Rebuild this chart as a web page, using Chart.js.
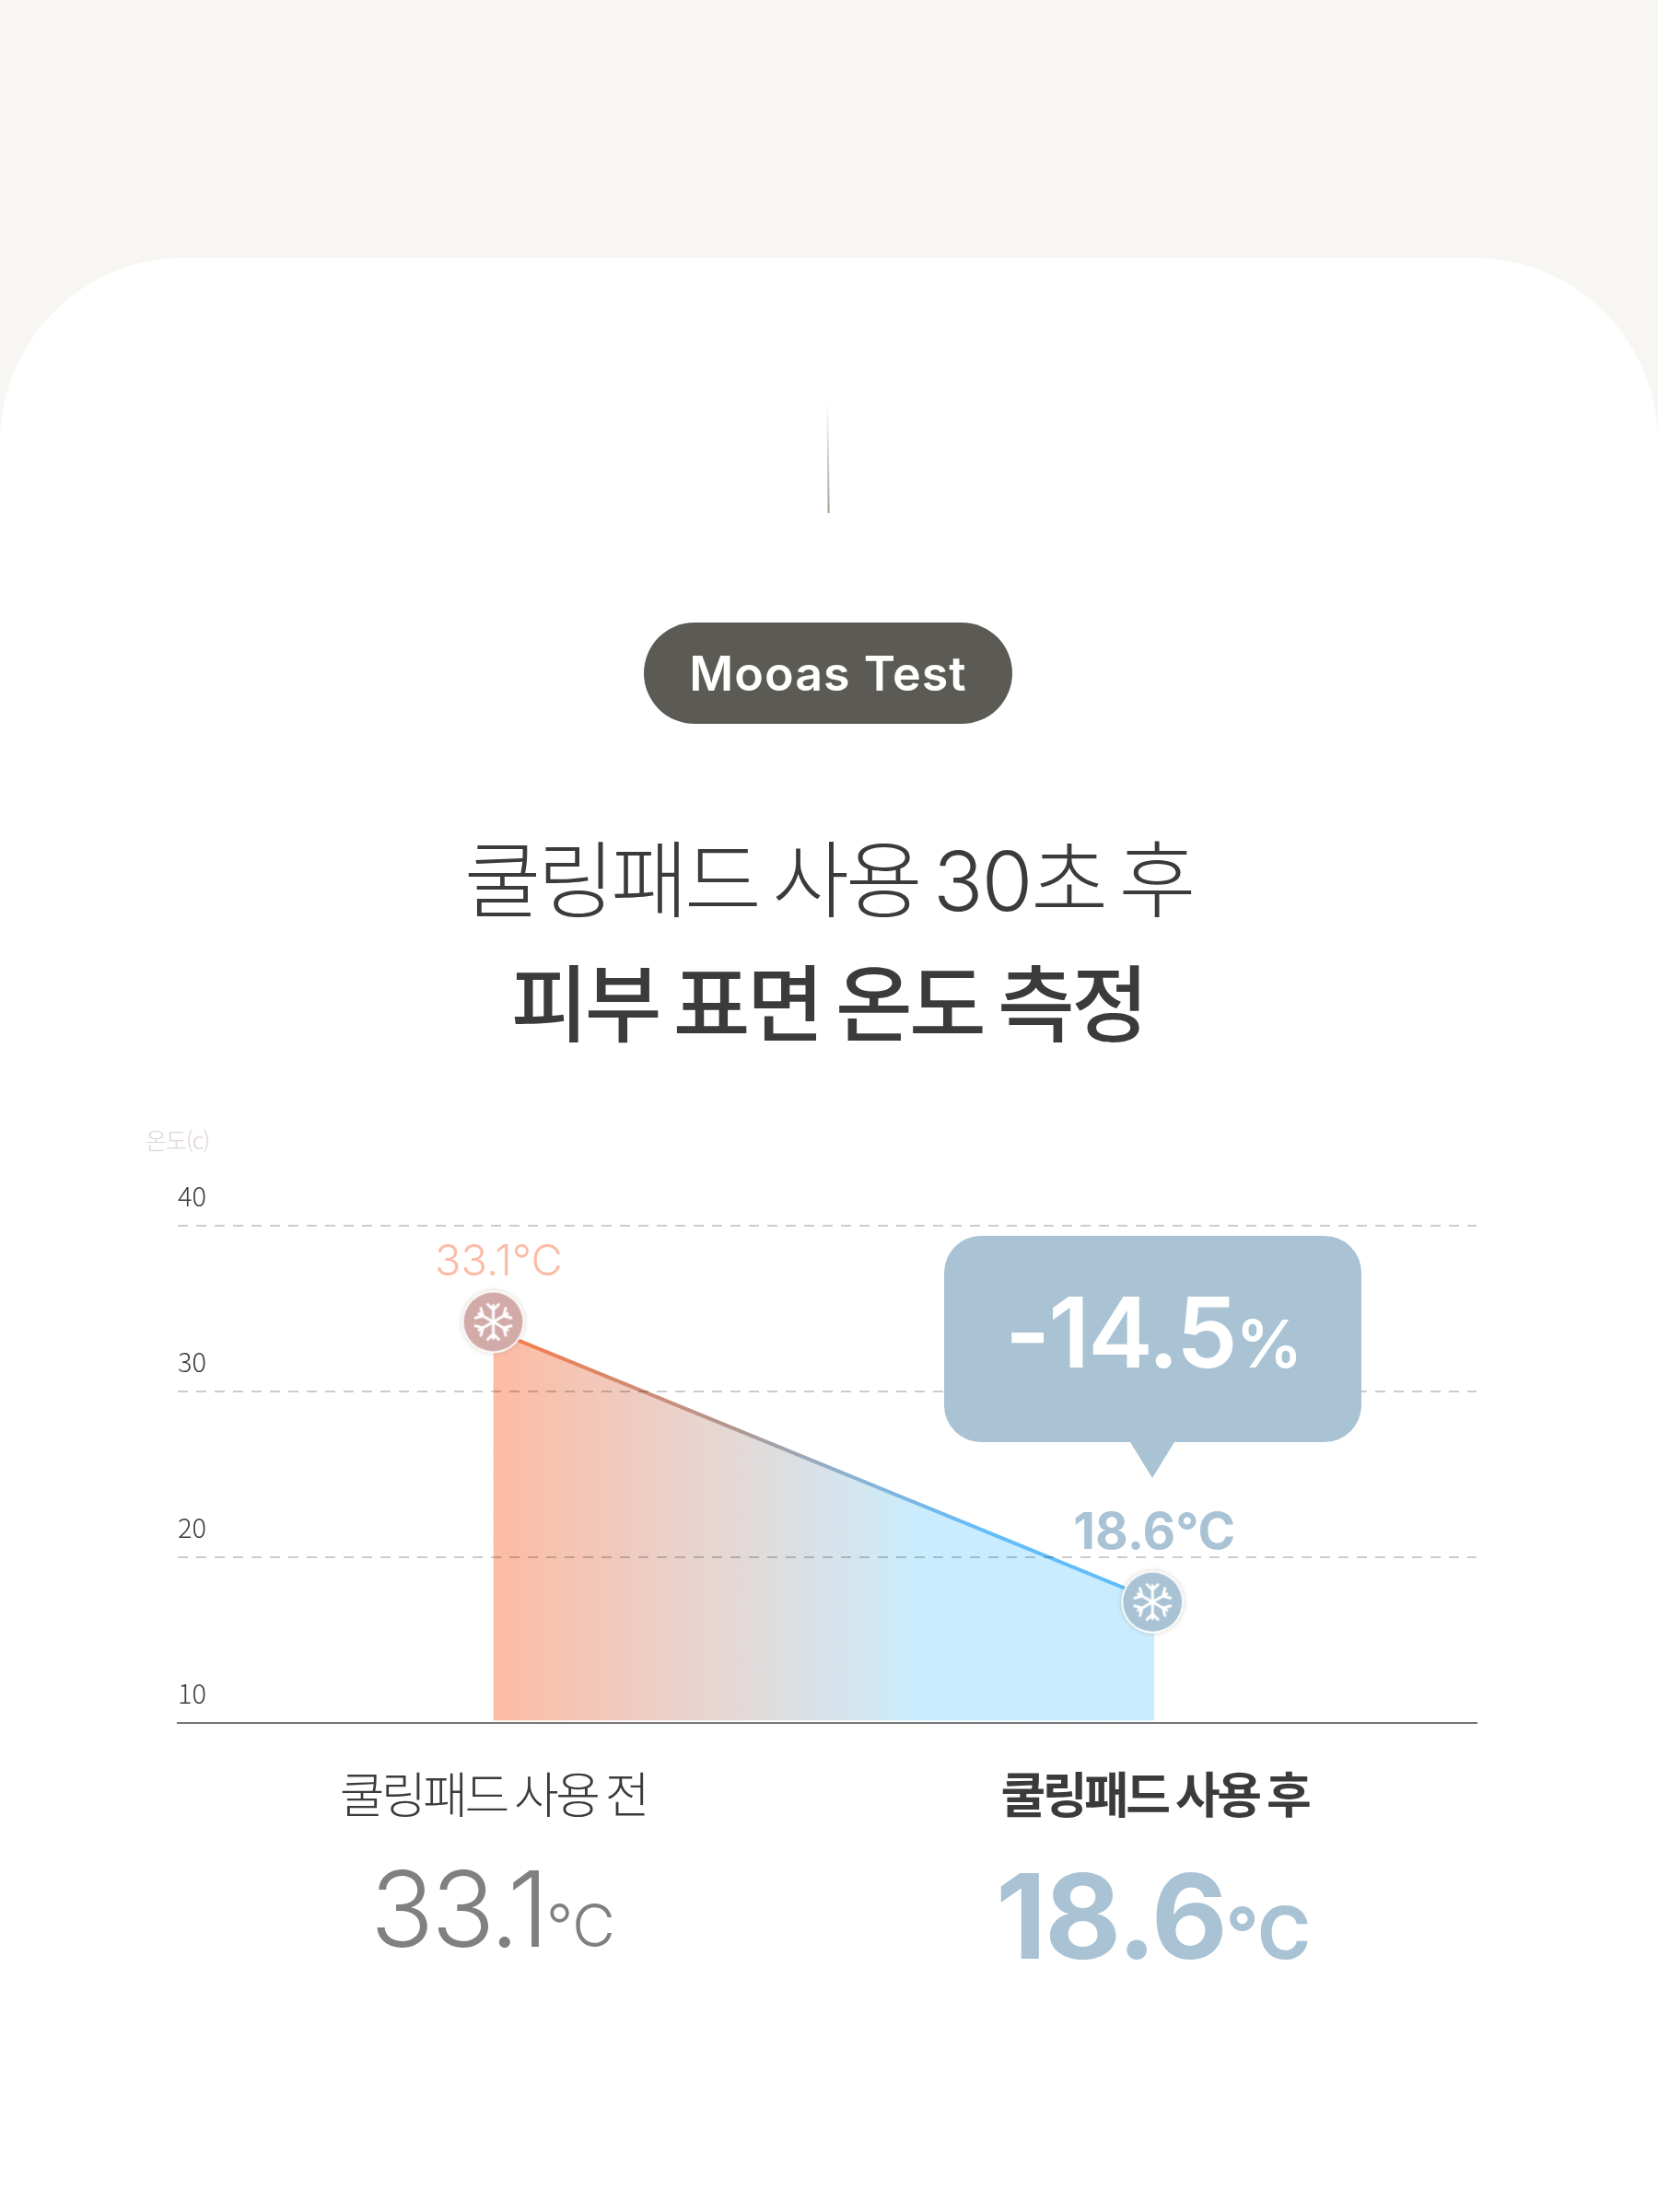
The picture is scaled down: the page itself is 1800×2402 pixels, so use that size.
<!DOCTYPE html>
<html lang="ko">
<head>
<meta charset="utf-8">
<title>쿨링패드 사용 30초 후 피부 표면 온도 측정</title>
<script src="https://cdn.jsdelivr.net/npm/chart.js@4"></script>
<style>
  html, body { margin: 0; padding: 0; }
  body { position: relative; width: 1800px; height: 2402px; overflow: hidden; background: #f7f6f2; font-family: 'Noto Sans CJK KR', sans-serif; color: #3b3b3b; }
  .card { position: absolute; left: 0; top: 280px; width: 1800px; height: 2122px; background: #fff; border-radius: 200px 200px 0 0; }
  .vline { position: absolute; left: 898px; top: 438px; width: 2px; height: 119px; background: linear-gradient(to bottom, rgba(166,155,144,0), #a69b90); transform: rotate(-0.6deg); }
  .pill { position: absolute; left: 699px; top: 676px; width: 400px; height: 110px; border-radius: 55px; background: #5b5a55; color: #fff; font: 600 52px Inter, sans-serif; line-height: 112px; text-align: center; letter-spacing: 1px; }
  .t { position: absolute; white-space: nowrap; text-align: center; }
  .title1 { left: -1px; width: 1800px; top: 889px; font-size: 91px; font-weight: 300; line-height: 120px; letter-spacing: -4px; word-spacing: -6px; }
  .title1 span { font-family: Inter, sans-serif; font-weight: 300; font-size: 90px; letter-spacing: -2px; }
  .title2 { left: -1px; width: 1800px; top: 1024px; font-size: 91px; font-weight: 500; line-height: 120px; letter-spacing: -3.6px; word-spacing: -6px; }
  .unit { position: absolute; left: 158px; top: 1220px; font-size: 25px; font-weight: 300; color: #ddd5d5; line-height: 34px; letter-spacing: -1px; }
  canvas { position: absolute; left: 0; top: 0; }
  .bubble { position: absolute; left: 1025px; top: 1342px; width: 453px; height: 224px; border-radius: 40px; background: #a9c3d5; color: #fff; font: 600 106px Inter, sans-serif; text-align: center; line-height: 210px; letter-spacing: -2px; }
  .bubble small { font-size: 72px; }
  .bubble::after { content: ''; position: absolute; left: 202px; top: 224px; border-left: 24px solid transparent; border-right: 24px solid transparent; border-top: 39px solid #a9c3d5; }
  .big1 { left: 335px; width: 400px; top: 1993px; color: #808080; font: 300 114px Inter, sans-serif; line-height: 160px; letter-spacing: -3px; }
  .big2 { left: 1052px; width: 400px; top: 2001px; color: #a9c3d5; font: 700 128px Inter, sans-serif; line-height: 160px; letter-spacing: -2px; }
  .big1 small { font-size: 64px; letter-spacing: 0; }
  .big2 small { font-size: 78px; letter-spacing: 0; }
</style>
</head>
<body>
<div class="card"></div>
<div class="vline"></div>
<div class="pill">Mooas Test</div>
<div class="t title1">쿨링패드 사용 <span>30</span>초 후</div>
<div class="t title2">피부 표면 온도 측정</div>
<div class="unit">온도(c)</div>
<canvas id="chart" width="1800" height="2402"></canvas>
<div class="bubble" id="bubble"></div>
<div class="t big1" id="big1"></div>
<div class="t big2" id="big2"></div>

<script>
const categories = ['쿨링패드 사용 전', '쿨링패드 사용 후'];
const positions = [0, 1];
const temperatures = [33.1, 18.6];
const changeLabel = -14.5;
// where the picture actually puts the line and the round markers
const lineLevels = [33.7, 17.4];
const markerPositions = [0, 0.997];
const markerLevels = [34.2, 17.3];
const yTicks = [10, 20, 30, 40];

document.getElementById('bubble').innerHTML = changeLabel + '<small>%</small>';
document.getElementById('big1').innerHTML = temperatures[0] + '<small>°C</small>';
document.getElementById('big2').innerHTML = temperatures[1] + '<small>°C</small>';

// round snowflake marker, drawn once and handed to Chart.js as a point style
const makeMarker = (fill) => {
    const c = document.createElement('canvas');
    c.width = 84;
    c.height = 84;
    const g = c.getContext('2d');
    g.translate(42, 42);
    g.shadowColor = 'rgba(120,100,90,0.3)';
    g.shadowBlur = 5;
    g.fillStyle = '#fff';
    g.beginPath();
    g.arc(0, 0, 34, 0, Math.PI * 2);
    g.fill();
    g.shadowBlur = 0;
    g.fillStyle = fill;
    g.beginPath();
    g.arc(0, 0, 32, 0, Math.PI * 2);
    g.fill();
    g.strokeStyle = '#fff';
    g.lineWidth = 3;
    g.lineCap = 'round';
    for (let i = 0; i < 6; i++) {
        g.save();
        g.rotate(i * Math.PI / 3);
        g.beginPath();
        g.moveTo(0, 0);
        g.lineTo(0, -18);
        g.moveTo(-6, -19);
        g.lineTo(0, -13);
        g.lineTo(6, -19);
        g.stroke();
        g.restore();
    }
    return c;
};

const horizontalGradient = (chart, stops) => {
    const { ctx, chartArea, scales } = chart;
    if (!chartArea) return 'transparent';
    const x0 = scales.x.getPixelForValue(positions[0]);
    const x1 = scales.x.getPixelForValue(positions[1]);
    const grad = ctx.createLinearGradient(x0, 0, x1, 0);
    stops.forEach(([at, col]) => grad.addColorStop(at, col));
    return grad;
};

const pointLabels = {
    id: 'pointLabels',
    afterDatasetsDraw(chart) {
        const { ctx, scales } = chart;
        const styles = [
            { font: '300 47px Inter, sans-serif', color: '#fdbba5', dx: 6, dy: -65 },
            { font: '700 55px Inter, sans-serif', color: '#a9c3d5', dx: 2, dy: -74 },
        ];
        ctx.save();
        ctx.textAlign = 'center';
        ctx.textBaseline = 'middle';
        temperatures.forEach((t, i) => {
            ctx.font = styles[i].font;
            ctx.fillStyle = styles[i].color;
            ctx.fillText(t + '°C', scales.x.getPixelForValue(markerPositions[i]) + styles[i].dx, scales.y.getPixelForValue(markerLevels[i]) + styles[i].dy);
        });
        ctx.restore();
        // x tick labels are drawn after this point, they sit tighter in the picture
        ctx.letterSpacing = '-3.5px';
    },
    afterDraw(chart) {
        chart.ctx.letterSpacing = '0px';
    },
};

new Chart(document.getElementById('chart'), {
    type: 'line',
    data: {
        datasets: [
            {
                label: 'marker',
                data: markerPositions.map((x, i) => ({ x, y: markerLevels[i] })),
                showLine: false,
                order: 0,
                pointStyle: [makeMarker('#d2aaa8'), makeMarker('#a9c3d5')],
            },
            {
                label: '온도',
                data: positions.map((x, i) => ({ x, y: lineLevels[i] })),
                order: 1,
                pointRadius: 0,
                borderWidth: 4,
                tension: 0,
                fill: { value: 10.15 },
                borderColor: (c) => horizontalGradient(c.chart, [[0, '#ff7a45'], [0.36, '#b2978f'], [0.55, '#8ab3d6'], [0.75, '#62bdfa'], [1, '#62bdfa']]),
                backgroundColor: (c) => horizontalGradient(c.chart, [[0, '#fdbba3'], [0.36, '#e4d8d5'], [0.55, '#d3e6f0'], [0.65, '#c9edfe'], [1, '#c9edfe']]),
            },
        ],
    },
    options: {
        responsive: false,
        animation: false,
        devicePixelRatio: 1,
        events: [],
        layout: { padding: { left: 193, right: 197, top: 1331, bottom: 391 } },
        plugins: { legend: { display: false }, tooltip: { enabled: false } },
        scales: {
            x: {
                type: 'linear',
                min: -0.477,
                max: 1.487,
                afterFit: (s) => { s.height = 140; },
                afterBuildTicks: (s) => { s.ticks = positions.map((value) => ({ value })); },
                grid: { display: false, drawTicks: false },
                border: { display: true, color: '#777', width: 2 },
                ticks: {
                    z: 1,
                    autoSkip: false,
                    maxRotation: 0,
                    padding: 46,
                    color: '#3b3b3b',
                    font: (c) => ({ family: "'Noto Sans CJK KR'", size: 53, weight: c.index === 1 ? 700 : 300 }),
                    callback: (v) => categories[v],
                },
            },
            y: {
                min: 10,
                max: 40,
                afterFit: (s) => { s.width = 0; },
                afterBuildTicks: (s) => { s.ticks = yTicks.map((value) => ({ value })); },
                grid: {
                    z: 1,
                    drawTicks: false,
                    lineWidth: 2,
                    color: (c) => (c.tick.value === 10 ? 'transparent' : 'rgba(0,0,0,0.2)'),
                },
                border: { display: false, dash: [11, 9] },
                ticks: {
                    mirror: true,
                    padding: 0,
                    labelOffset: -32,
                    color: '#3b3b3b',
                    font: { family: "'Noto Sans CJK KR'", size: 29, weight: 300 },
                },
            },
        },
    },
    plugins: [pointLabels],
});
</script>
</body>
</html>
